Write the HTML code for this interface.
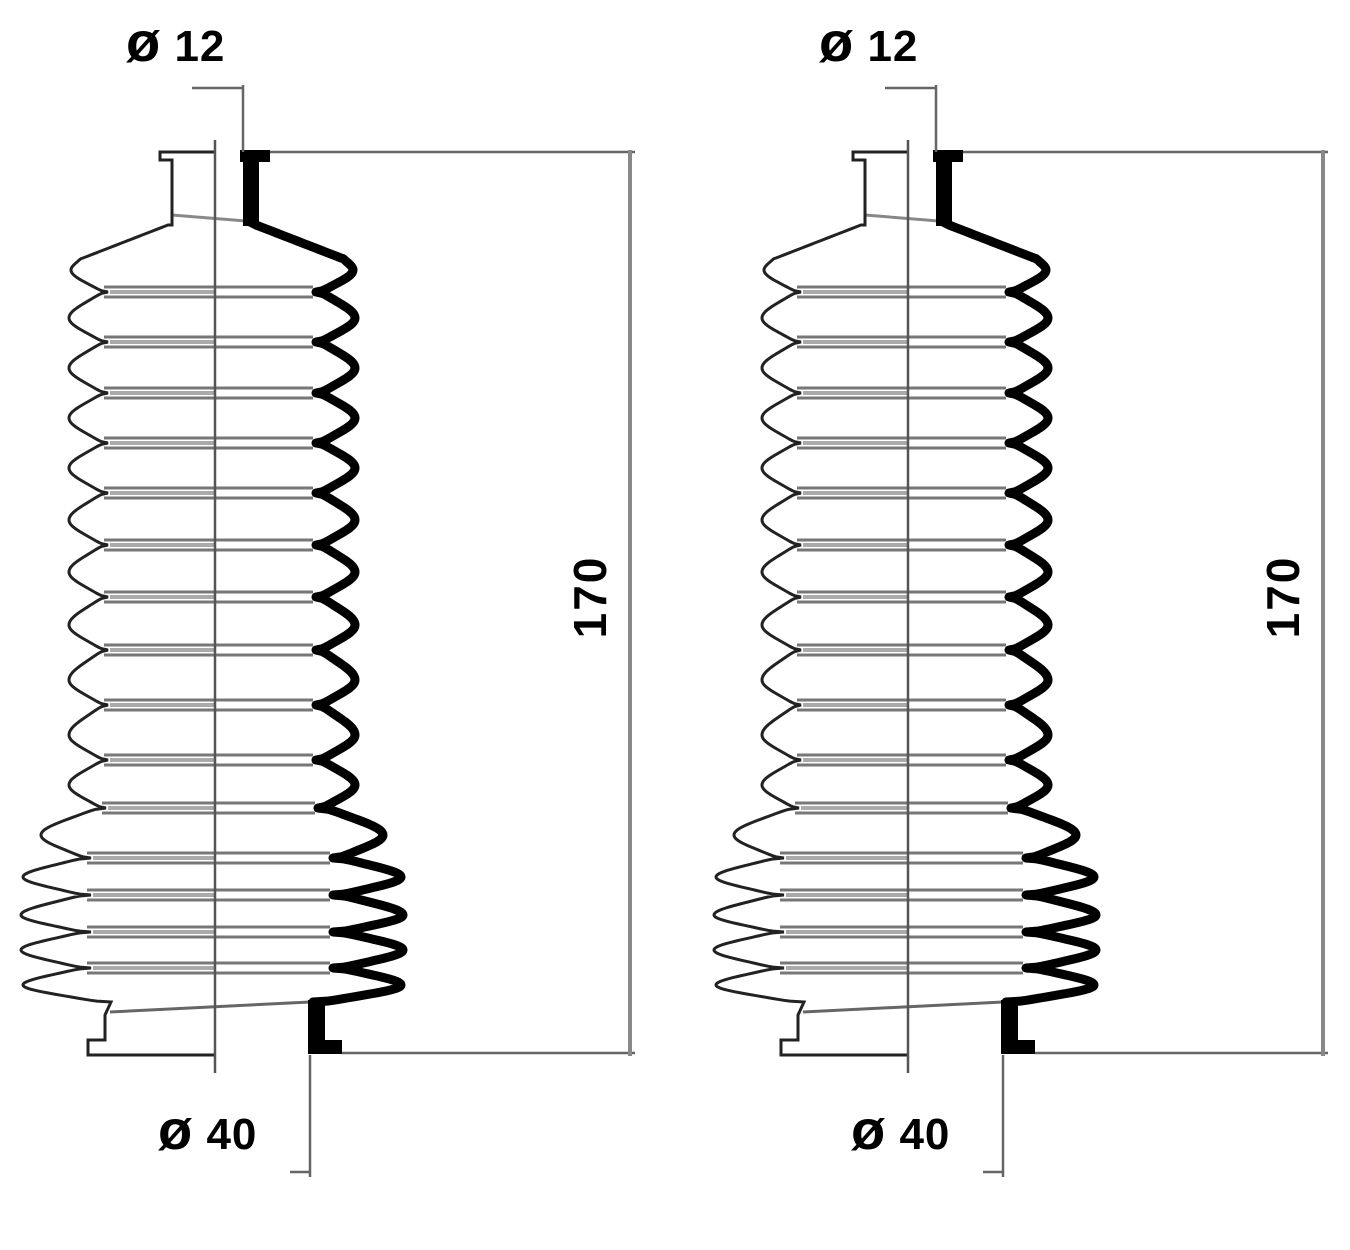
<!DOCTYPE html>
<html><head><meta charset="utf-8"><style>
html,body{margin:0;padding:0;background:#fff;}
svg{display:block}
text{font-family:"Liberation Sans",sans-serif;font-weight:bold;fill:#000}
</style></head><body>
<svg id="s" width="1350" height="1250" viewBox="0 0 1350 1250" xmlns="http://www.w3.org/2000/svg"></svg>
<script>
var NS="http://www.w3.org/2000/svg",S=document.getElementById('s');
function el(t,a,txt){var e=document.createElementNS(NS,t);for(var k in a)e.setAttribute(k,a[k]);if(txt)e.textContent=txt;S.appendChild(e);return e;}
var ex=[[225,43],[258,128],[270,140],[292,103],[318,142],[342,103]];
var pk=[368,418,468,520,572,625,680,735,785];
for(var i=0;i<pk.length;i++){ex.push([pk[i],142]);ex.push([pk[i]+25,103]);}
ex.pop();ex.push([808,105]);
ex=ex.concat([[835,170],[858,120],[877,188],[895,120],[915,190],[932,120],[950,190],[968,120],[985,188],[1002,100]]);
function prof(){var pts=[];for(var i=0;i<ex.length-1;i++){var a=ex[i],b=ex[i+1];for(var t=0;t<=1.0001;t+=0.05){var f,c=(1-Math.cos(Math.PI*t))/2;
 if(i<1)f=t;else if(b[1]>a[1])f=Math.sqrt(Math.max(0,1-(1-t)*(1-t)));else f=1-Math.sqrt(Math.max(0,1-t*t));
 if(i>=1)f=0.5*f+0.5*c;
 pts.push([a[0]+(b[0]-a[0])*t,a[1]+(b[1]-a[1])*f]);}}return pts;}
var P=prof();
function draw(ox){
 var ax=215+ox;
 for(var i=2;i<ex.length-1;i++){var y=ex[i][0],r=ex[i][1];
  if(r<125){[-5,5].forEach(function(o){el('line',{x1:ax-r-8,y1:y+o,x2:ax+r-5,y2:y+o,stroke:'#777','stroke-width':3});});
   el('line',{x1:ax-r-2,y1:y,x2:ax,y2:y,stroke:'#aaa','stroke-width':4});}
 }
 el('line',{x1:ax-43,y1:215,x2:ax+43,y2:222,stroke:'#888','stroke-width':3});
 el('line',{x1:ax-105,y1:1012,x2:ax+95,y2:1002,stroke:'#666','stroke-width':3});
 var d="M"+(ax+35)+",222";
 P.forEach(function(p){d+=" L"+(ax+p[1]-2)+","+p[0];});
 d+=" L"+(ax+100)+",1005";
 el('path',{d:d,fill:'none',stroke:'#000','stroke-width':9,'stroke-linejoin':'round'});
 el('rect',{x:ax+25,y:150,width:30,height:12,fill:'#000'});
 el('rect',{x:ax+28,y:150,width:16,height:76,fill:'#000'});
 el('rect',{x:ax+93,y:1000,width:17,height:54,fill:'#000'});
 el('rect',{x:ax+93,y:1040,width:34,height:14,fill:'#000'});
 var l="M"+ax+",152 L"+(ax-55)+",152 L"+(ax-55)+",160 L"+(ax-43)+",160 L"+(ax-43)+",225";
 P.forEach(function(p){l+=" L"+(ax-p[1]-4)+","+p[0];});
 l+=" L"+(ax-110)+",1015 L"+(ax-110)+",1040 L"+(ax-127)+",1040 L"+(ax-127)+",1055 L"+ax+",1055";
 el('path',{d:l,fill:'none',stroke:'#222','stroke-width':3});
 el('line',{x1:ax,y1:140,x2:ax,y2:1073,stroke:'#555','stroke-width':2.5});
 var g='#666';
 el('line',{x1:ax-23,y1:88,x2:ax+28,y2:88,stroke:g,'stroke-width':2.5});
 el('line',{x1:ax+28,y1:85,x2:ax+28,y2:152,stroke:g,'stroke-width':2.5});
 el('line',{x1:ax+55,y1:152,x2:ax+420,y2:152,stroke:g,'stroke-width':2.5});
 el('line',{x1:ax+127,y1:1053,x2:ax+420,y2:1053,stroke:g,'stroke-width':2.5});
 el('line',{x1:ax+415,y1:150,x2:ax+415,y2:1056,stroke:'#888','stroke-width':4});
 el('line',{x1:ax+95,y1:1055,x2:ax+95,y2:1177,stroke:g,'stroke-width':2.5});
 el('line',{x1:ax+75,y1:1172,x2:ax+95,y2:1172,stroke:g,'stroke-width':2.5});
 var t1=el('text',{x:ax-89,y:61,'font-size':44,'letter-spacing':1});
 t1.innerHTML='<tspan font-size="56">ø</tspan> 12';
 var t2=el('text',{x:ax-57,y:1149,'font-size':44,'letter-spacing':1});
 t2.innerHTML='<tspan font-size="56">ø</tspan> 40';
 el('text',{x:0,y:0,'font-size':46,'letter-spacing':2,'text-anchor':'middle',transform:'translate('+(ax+391)+',597) rotate(-90)'},'170');
}
draw(0);draw(693);
</script>
</body></html>
